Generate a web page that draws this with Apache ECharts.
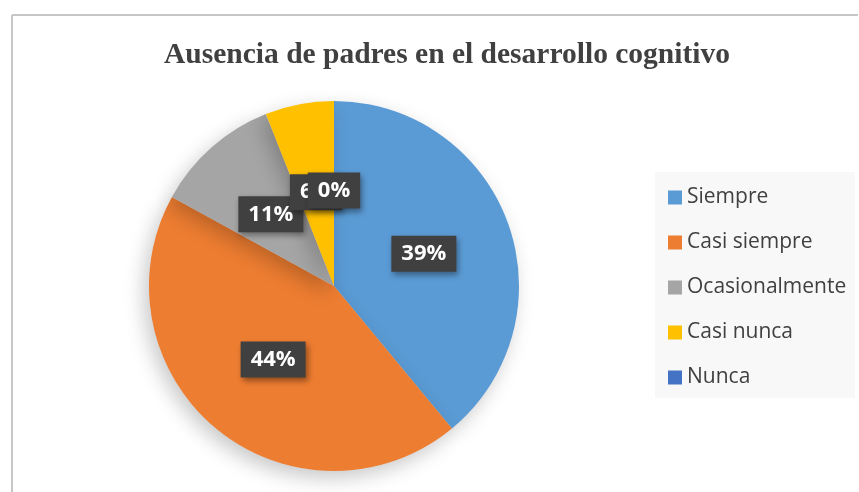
<!DOCTYPE html>
<html>
<head>
<meta charset="utf-8">
<script src="https://cdn.jsdelivr.net/npm/echarts@6/dist/echarts.min.js"></script>
<style>
    html, body { margin: 0; padding: 0; background: #fff; }
    #chart { width: 859px; height: 492px; }
</style>
</head>
<body>
<div id="chart"></div>
<script>
    // datos
    var categorias = ['Siempre', 'Casi siempre', 'Ocasionalmente', 'Casi nunca', 'Nunca'];
    var valores = [39, 44, 11, 6, 0];
    var colores = ['#5B9BD5', '#ED7D31', '#A5A5A5', '#FFC000', '#4472C4'];

    var chart = echarts.init(document.getElementById('chart'));

    var datos = categorias.map(function (c, i) {
        return { name: c, value: valores[i], itemStyle: { color: colores[i] } };
    });

    chart.setOption({
        animation: false,
        graphic: [
            { type: 'line', shape: { x1: 12, y1: 15, x2: 858, y2: 15 }, style: { stroke: '#c6c6c6', lineWidth: 2 } },
            { type: 'line', shape: { x1: 12, y1: 15, x2: 12, y2: 492 }, style: { stroke: '#c6c6c6', lineWidth: 2 } },
            { type: 'rect', shape: { x: 655, y: 172, width: 200, height: 226 }, style: { fill: '#f8f8f8' }, z: -1 }
        ],
        title: {
            text: 'Ausencia de padres en el desarrollo cognitivo',
            left: 442,
            textAlign: 'center',
            top: 35,
            textStyle: {
                fontFamily: 'Liberation Serif',
                fontSize: 29.5,
                fontWeight: 'bold',
                color: '#404040'
            }
        },
        legend: {
            orient: 'vertical',
            left: 668,
            top: 187,
            padding: 0,
            itemWidth: 14,
            itemHeight: 14,
            itemGap: 24,
            icon: 'rect',
            data: categorias,
            textStyle: {
                fontFamily: 'Open Sans',
                fontSize: 21,
                color: '#404040'
            }
        },
        series: [
            {
                type: 'pie',
                center: [334, 286],
                radius: 185,
                startAngle: 90,
                clockwise: true,
                avoidLabelOverlap: false,
                labelLayout: { hideOverlap: false },
                data: datos,
                itemStyle: {
                    shadowBlur: 20,
                    shadowOffsetX: -5,
                    shadowOffsetY: 7,
                    shadowColor: 'rgba(0,0,0,0.22)'
                },
                label: {
                    show: true,
                    position: 'inside',
                    formatter: '{d}%',
                    fontFamily: 'Open Sans',
                    fontSize: 22,
                    fontWeight: 'bold',
                    color: '#fff',
                    backgroundColor: '#404040',
                    padding: [8, 10, 6, 10],
                    shadowBlur: 6,
                    shadowOffsetX: 2,
                    shadowOffsetY: 3,
                    shadowColor: 'rgba(0,0,0,0.4)'
                },
                labelLine: { show: false },
                emphasis: { disabled: true }
            }
        ]
    });
</script>
</body>
</html>
